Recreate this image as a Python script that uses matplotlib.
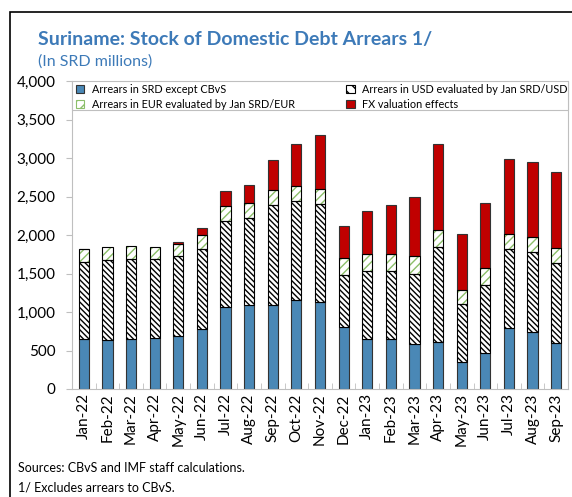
import numpy as np
import matplotlib.pyplot as plt
from matplotlib.patches import Rectangle

plt.rcParams['font.family'] = ['Lato', 'DejaVu Sans']
plt.rcParams['hatch.linewidth'] = 1.0

months = ['Jan-22', 'Feb-22', 'Mar-22', 'Apr-22', 'May-22', 'Jun-22', 'Jul-22',
          'Aug-22', 'Sep-22', 'Oct-22', 'Nov-22', 'Dec-22', 'Jan-23', 'Feb-23',
          'Mar-23', 'Apr-23', 'May-23', 'Jun-23', 'Jul-23', 'Aug-23', 'Sep-23']
srd = [650, 640, 650, 662, 692, 783, 1065, 1086, 1086, 1156, 1130,
       805, 649, 649, 588, 610, 346, 467, 792, 740, 597]
usd = [999, 1035, 1038, 1022, 1030, 1035, 1121, 1135, 1304, 1289, 1273,
       675, 883, 883, 909, 1234, 753, 883, 1026, 1039, 1043]
eur = [169, 169, 169, 165, 161, 186, 186, 190, 189, 187, 189,
       221, 221, 221, 225, 221, 187, 221, 190, 190, 195]
fx = [0, -8, -12, -6, 26, 87, 203, 242, 390, 550, 702,
      420, 563, 632, 771, 1121, 727, 845, 974, 979, 983]

labels = ['Arrears in SRD except CBvS', 'Arrears in USD evaluated by Jan SRD/USD',
          'Arrears in EUR evaluated by Jan SRD/EUR', 'FX valuation effects']

blue = '#4a88b6'
red = '#c00000'
green = '#8cbf6a'
title_col = '#3d7ab8'

fig = plt.figure(figsize=(5.72, 4.97), dpi=100)
ax = fig.add_axes([72/572, 1 - 389/497, 496/572, 308/497])

x = np.arange(len(months))
w = 0.43
srd_a, usd_a, eur_a, fx_a = map(np.array, (srd, usd, eur, fx))

# each layer: fill/hatch pass, then a dark outline pass
ax.bar(x, srd_a, w, color=blue, edgecolor='#333333', linewidth=0.8, zorder=2)
ax.bar(x, usd_a, w, bottom=srd_a, color='white', edgecolor='black',
       hatch='\\\\\\\\\\\\', linewidth=0, zorder=2)
ax.bar(x, usd_a, w, bottom=srd_a, fill=False, edgecolor='black', linewidth=0.8, zorder=3)
ax.bar(x, eur_a, w, bottom=srd_a + usd_a, color='white', edgecolor=green,
       hatch='////', linewidth=0, zorder=2)
ax.bar(x, eur_a, w, bottom=srd_a + usd_a, fill=False, edgecolor='black', linewidth=0.8, zorder=3)
base = np.where(fx_a >= 0, srd_a + usd_a + eur_a, 0)
ax.bar(x, fx_a, w, bottom=base, color=red, edgecolor='#333333', linewidth=0.8, zorder=2)

ax.set_xlim(-0.5, len(months) - 0.5)
ax.set_ylim(0, 4000)
ax.set_yticks(range(0, 4001, 500))
ax.set_yticklabels([f'{v:,}' for v in range(0, 4001, 500)], fontsize=11)
ax.set_xticks(x)
ax.set_xticklabels(months, rotation=90, fontsize=11)
ax.tick_params(axis='x', length=0, pad=3)
ax.set_xticks(np.arange(-0.5, len(months)), minor=True)
ax.tick_params(axis='x', which='minor', direction='in', length=4, color='#bfbfbf')
ax.tick_params(axis='y', direction='out', length=4, color='#bfbfbf', pad=8)
ax.spines['top'].set_visible(False)
for s in ('left', 'bottom', 'right'):
    ax.spines[s].set_color('#bfbfbf')

# legend box spans the full plot width
ax.add_patch(Rectangle((0, 1 - 29/308), 1, 29/308, transform=ax.transAxes,
                       facecolor='white', edgecolor='#bfbfbf', linewidth=0.8,
                       zorder=4, clip_on=False))

handles = [
    Rectangle((0, 0), 1, 1, facecolor=blue, edgecolor='#333333', lw=0.8),
    Rectangle((0, 0), 1, 1, facecolor='white', edgecolor='black', hatch='\\\\\\', lw=0.8),
    Rectangle((0, 0), 1, 1, facecolor='white', edgecolor=green, hatch='///', lw=0.8),
    Rectangle((0, 0), 1, 1, facecolor=red, edgecolor='#333333', lw=0.8),
]
order = [0, 2, 1, 3]
leg = ax.legend([handles[i] for i in order], [labels[i] for i in order], ncol=2,
                loc='upper left', bbox_to_anchor=(0, 1.005), frameon=False,
                fontsize=7.8, handlelength=0.75, handleheight=0.75,
                handletextpad=0.65, borderpad=0.4, labelspacing=0.4,
                columnspacing=4.8, borderaxespad=0)
leg.set_zorder(5)

fig.text(38/572, 1 - 40/497, 'Suriname: Stock of Domestic Debt Arrears 1/',
         fontsize=14, fontweight='bold', color=title_col, va='center')
fig.text(38/572, 1 - 62/497, '(In SRD millions)', fontsize=11.5,
         color=title_col, va='center')
fig.text(18/572, 1 - 468/497, 'Sources: CBvS and IMF staff calculations.',
         fontsize=9, va='center')
fig.text(18/572, 1 - 488/497, '1/ Excludes arrears to CBvS.',
         fontsize=9, va='center')

fig.patches.append(Rectangle((10/572, -0.1), 1.2, 1 - 12/497 + 0.1,
                             transform=fig.transFigure, fill=False,
                             edgecolor='black', linewidth=1.2))

fig.savefig('out.png', dpi=100)
